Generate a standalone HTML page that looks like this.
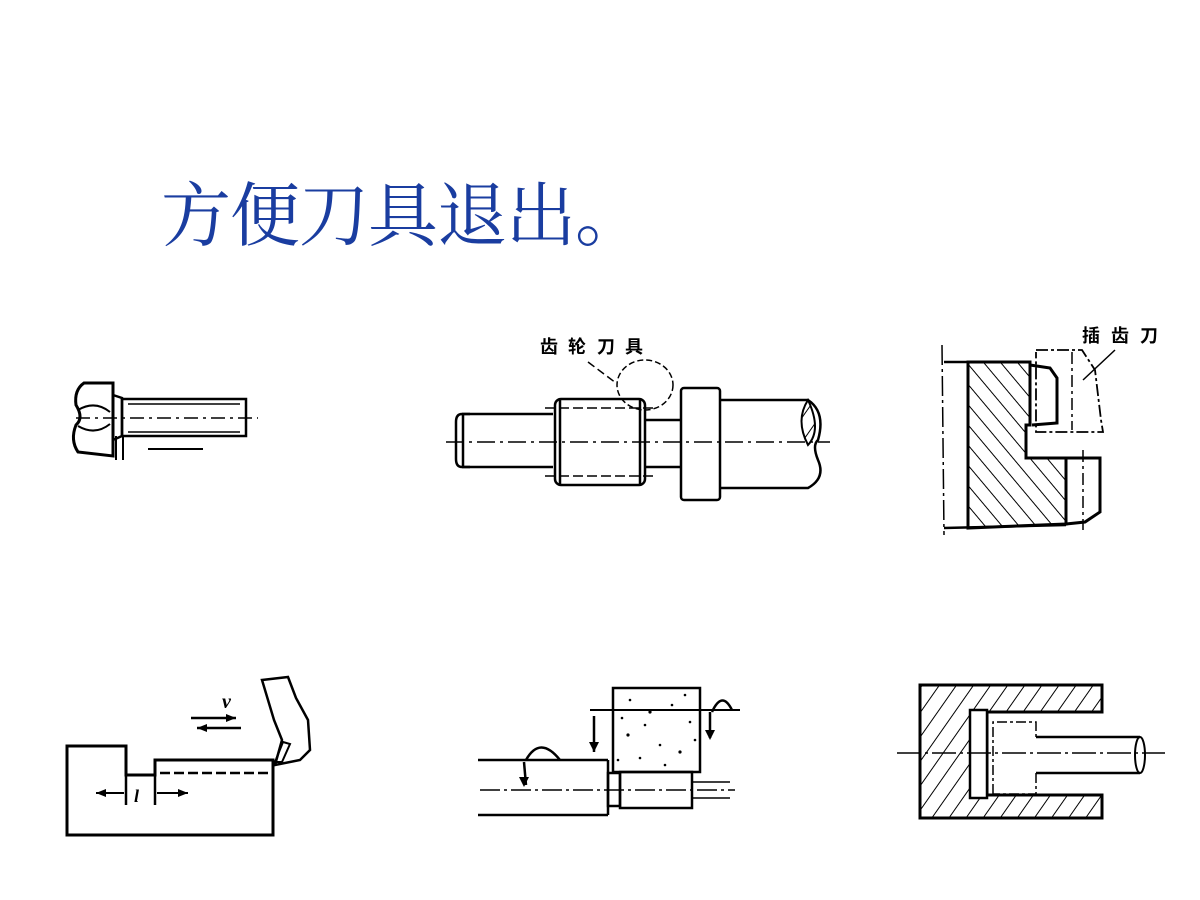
<!DOCTYPE html>
<html><head><meta charset="utf-8"><style>
html,body{margin:0;padding:0;background:#fff;width:1200px;height:900px;overflow:hidden}
svg{display:block}
</style></head><body>
<svg width="1200" height="900" viewBox="0 0 1200 900" xmlns="http://www.w3.org/2000/svg">
<defs>
<pattern id="h1" width="14" height="14" patternUnits="userSpaceOnUse" patternTransform="rotate(35)">
<line x1="0" y1="0" x2="0" y2="14" stroke="#000" stroke-width="2"/></pattern>
<pattern id="h2" width="13" height="13" patternUnits="userSpaceOnUse" patternTransform="rotate(-40)">
<line x1="0" y1="0" x2="0" y2="13" stroke="#000" stroke-width="2"/></pattern>
</defs>
<text y="240" font-family="'Liberation Serif','Noto Serif CJK SC',serif" font-size="70" fill="#1a3da0"><tspan x="161">方</tspan><tspan x="230">便</tspan><tspan x="299">刀</tspan><tspan x="368">具</tspan><tspan x="437">退</tspan><tspan x="506">出</tspan><tspan x="575">。</tspan></text>

<g fill="none" stroke="#000" stroke-width="2.5">
<!-- Fig1 bolt -->
<path d="M113,383 L84,383 Q74,390 76,405 Q84,418 76,425 Q70,440 78,452 L113,456 Z" stroke-width="3"/>
<path d="M78,410 Q95,400 110,412 M78,426 Q95,436 110,424" stroke-width="2"/>
<path d="M113,395 L122,398 L122,436 L113,440"/>
<rect x="122" y="399" width="124" height="37"/>
<line x1="128" y1="404" x2="240" y2="404" stroke-width="1.5"/>
<line x1="128" y1="432" x2="240" y2="432" stroke-width="1.5"/>
<line x1="76" y1="418" x2="258" y2="418" stroke-width="1.5" stroke-dasharray="14,5,3,5"/>
<line x1="116" y1="436" x2="116" y2="460" stroke-width="2"/>
<line x1="123" y1="436" x2="123" y2="460" stroke-width="2"/>
<line x1="148" y1="449" x2="203" y2="449" stroke-width="2"/>

<!-- Fig2 gear shaft -->
<path d="M470,414 L462,414 Q456,414 456,422 L456,459 Q456,467 462,467 L470,467 M463,414 L463,467"/>
<line x1="462" y1="414" x2="553" y2="414"/><line x1="462" y1="467" x2="553" y2="467"/>
<rect x="555" y="399" width="90" height="86" rx="6"/>
<line x1="560" y1="400" x2="560" y2="485"/><line x1="640" y1="400" x2="640" y2="485"/>
<line x1="545" y1="408" x2="655" y2="408" stroke-width="1.5" stroke-dasharray="10,4"/>
<line x1="545" y1="476" x2="655" y2="476" stroke-width="1.5" stroke-dasharray="10,4"/>
<line x1="645" y1="420" x2="680" y2="420"/><line x1="645" y1="467" x2="680" y2="467"/>
<rect x="681" y="388" width="39" height="112" rx="3"/>
<path d="M720,400 L808,400 Q826,412 818,440 Q812,445 818,460 Q826,478 808,488 L720,488"/>
<path d="M808,400 Q795,420 808,445 Q822,430 808,400 Z" fill="url(#h1)" stroke-width="2"/>
<line x1="446" y1="442" x2="830" y2="442" stroke-width="1.5" stroke-dasharray="18,5,3,5"/>
<ellipse cx="645" cy="385" rx="28" ry="25" stroke-width="1.5" stroke-dasharray="6,3"/>
<line x1="588" y1="362" x2="616" y2="383" stroke-width="1.5" stroke-dasharray="8,4"/>

<!-- Fig3 -->
<line x1="942" y1="345" x2="944" y2="535" stroke-width="1.5" stroke-dasharray="20,4,3,4"/>
<path d="M944,362 L1030,362 M944,528 L1066,525"/>
<path d="M968,362 L1030,362 L1030,425 L1026,425 L1026,458 L1066,458 L1066,524 L968,528 Z" fill="url(#h2)" stroke-width="3"/>
<path d="M1066,458 L1100,458 L1100,512 L1085,522 L1066,524" stroke-width="3"/>
<path d="M1030,365 L1050,368 L1057,378 L1057,423 L1032,425" stroke-width="3"/>
<path d="M1036,350 L1082,350 L1095,370 L1101,420 L1103,432 L1036,432 L1036,352" stroke-width="1.8" stroke-dasharray="12,3,3,3"/>
<line x1="1072" y1="352" x2="1072" y2="430" stroke-width="1.5" stroke-dasharray="12,4,3,4"/>
<line x1="1083" y1="450" x2="1083" y2="530" stroke-width="1.5" stroke-dasharray="12,4,3,4"/>
<line x1="1083" y1="380" x2="1115" y2="350" stroke-width="1.5"/>

<!-- Fig4 -->
<path d="M67,746 L126,746 L126,775 L155,775 L155,760 L273,760 L273,835 L67,835 Z" stroke-width="3"/>
<line x1="160" y1="773" x2="272" y2="773" stroke-dasharray="10,4"/>
<line x1="126" y1="775" x2="126" y2="805"/><line x1="155" y1="775" x2="155" y2="805"/>
<line x1="96" y1="793" x2="124" y2="793" stroke-width="2"/><line x1="157" y1="793" x2="188" y2="793" stroke-width="2"/>
<line x1="191" y1="718" x2="236" y2="718" stroke-width="2.5"/><line x1="197" y1="728" x2="241" y2="728" stroke-width="2.5"/>
<path d="M262,680 L288,677 L296,698 L308,720 L310,750 L300,760 L275,765 L282,740 L274,720 Z" stroke-width="2.5"/>
<path d="M283,742 L290,744 L282,762 L275,762 Z" stroke-width="2"/>

<!-- Fig5 -->
<rect x="613" y="688" width="87" height="84" stroke-width="2.5"/>
<line x1="478" y1="760" x2="608" y2="760"/><line x1="478" y1="815" x2="608" y2="815"/>
<line x1="608" y1="760" x2="608" y2="815"/>
<rect x="608" y="773" width="12" height="33"/>
<rect x="620" y="772" width="72" height="36"/>
<line x1="480" y1="790" x2="735" y2="790" stroke-width="1.5" stroke-dasharray="20,4,3,4"/>
<line x1="590" y1="710" x2="740" y2="710" stroke-width="2"/>
<line x1="693" y1="782" x2="730" y2="782" stroke-width="1.5"/><line x1="693" y1="798" x2="730" y2="798" stroke-width="1.5"/>
<path d="M526,760 Q540,735 560,760"/>
<path d="M712,712 Q722,690 732,710"/>
<line x1="524" y1="762" x2="526" y2="785"/>
<line x1="594" y1="716" x2="594" y2="752"/>
<line x1="710" y1="712" x2="710" y2="738"/>

<!-- Fig6 -->
<path d="M1102,712 L1102,685 L920,685 L920,818 L1102,818 L1102,795 L987,795 L987,712 Z" fill="url(#h1)" stroke-width="3"/>
<rect x="970" y="710" width="17" height="88" fill="#fff"/>
<path d="M993,794 L993,722 L1036,722 L1036,737 M1036,773 L1036,794 L993,794" stroke-width="1.5" stroke-dasharray="10,3,3,3"/>
<line x1="1036" y1="737" x2="1140" y2="737"/><line x1="1036" y1="773" x2="1140" y2="773"/>
<ellipse cx="1140" cy="755" rx="5" ry="18" stroke-width="2"/>
<line x1="897" y1="753" x2="1165" y2="753" stroke-width="1.5" stroke-dasharray="24,4,3,4"/>
</g>
<g fill="#000">
<g font-family="'Liberation Sans','Noto Sans CJK SC',sans-serif" font-weight="bold" font-size="18">
<text y="353"><tspan x="540">齿</tspan><tspan x="568">轮</tspan><tspan x="597">刀</tspan><tspan x="625">具</tspan></text>
<text y="342"><tspan x="1082">插</tspan><tspan x="1111">齿</tspan><tspan x="1140">刀</tspan></text>
</g>
<text x="134" y="802" font-family="'Liberation Serif',serif" font-style="italic" font-weight="bold" font-size="18">l</text>
<text x="222" y="708" font-family="'Liberation Serif',serif" font-style="italic" font-weight="bold" font-size="20">v</text>
<path d="M96,793 l10,-4 v8z M188,793 l-10,-4 v8z M236,718 l-10,-4 v8z M197,728 l10,-4 v8z M524,787 l-5,-10 h10z M594,752 l-5,-10 h10z M710,740 l-5,-10 h10z"/>
<circle cx="630" cy="700" r="1.3"/><circle cx="650" cy="712" r="1.6"/><circle cx="672" cy="705" r="1.3"/><circle cx="690" cy="722" r="1.3"/><circle cx="628" cy="735" r="1.6"/><circle cx="660" cy="745" r="1.3"/><circle cx="640" cy="758" r="1.3"/><circle cx="680" cy="752" r="1.6"/><circle cx="622" cy="718" r="1.3"/><circle cx="695" cy="740" r="1.3"/><circle cx="645" cy="725" r="1.3"/><circle cx="665" cy="765" r="1.3"/><circle cx="685" cy="695" r="1.3"/><circle cx="618" cy="760" r="1.3"/>
</g>
</svg>
</body></html>
